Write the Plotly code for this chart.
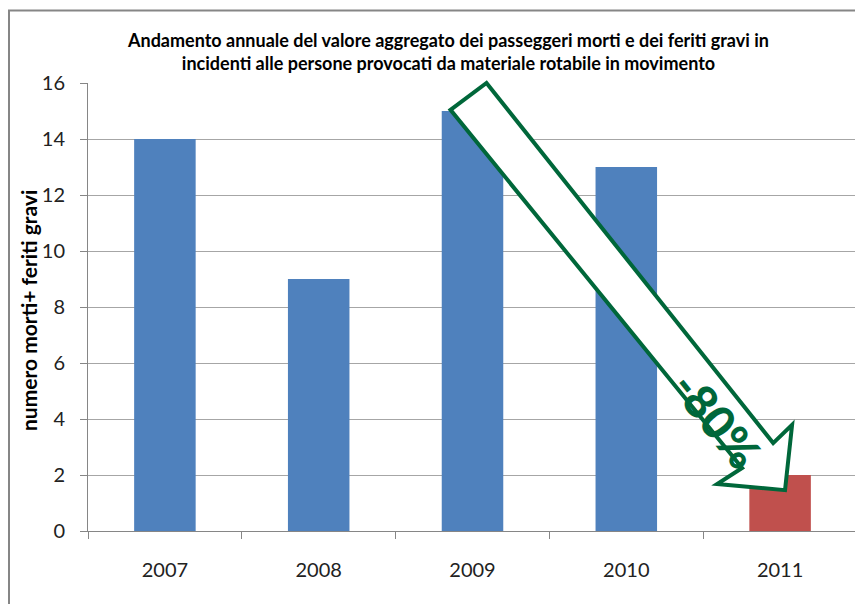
import plotly.graph_objects as go

# ---- data ----
years = ["2007", "2008", "2009", "2010", "2011"]
values = [14, 9, 15, 13, 2]
bar_colors = ["#4F81BD", "#4F81BD", "#4F81BD", "#4F81BD", "#C0504D"]
y_ticks = [0, 2, 4, 6, 8, 10, 12, 14, 16]

title_lines = [
    "Andamento annuale del valore aggregato dei passeggeri morti e dei feriti gravi in",
    "incidenti alle persone provocati da materiale rotabile in movimento",
]
y_title = "numero morti+ feriti gravi"
arrow_label = "-80%"

# arrow outline vertices in data units (category index, value)
arrow_x = [1.857, 2.091, 3.955, 4.078, 4.032, 3.591, 3.753]
arrow_y = [15.04, 16.0, 3.14, 3.79, 1.46, 1.68, 2.25]
label_pos = (3.59, 4.0)

X_RANGE = [-0.5, 4.5]
Y_RANGE = [0, 16]

FONT = "Lato"
GREEN = "#00673A"

fig = go.Figure()
fig.add_trace(go.Bar(
    x=years, y=values, marker=dict(color=bar_colors, line=dict(width=0)),
    width=0.4, showlegend=False,
))

# convert arrow vertices to domain fractions (avoid clipping at the plot edge)
def dx(v):
    return (v - X_RANGE[0]) / (X_RANGE[1] - X_RANGE[0])

def dy(v):
    return (v - Y_RANGE[0]) / (Y_RANGE[1] - Y_RANGE[0])

path = "M " + " L ".join(f"{dx(a):.5f},{dy(b):.5f}" for a, b in zip(arrow_x, arrow_y)) + " Z"

# figure sits 8px inside the page (body margin)
W, H = 855, 596
L, R, T, B = 80, 6, 75, 73
pw, ph = W - L - R, H - T - B
bottom = H - B

def px(x):
    return (x - L) / pw

def py(y):
    return (bottom - y) / ph

shapes = [
    dict(type="path", path=path, xref="x domain", yref="y domain",
         line=dict(color=GREEN, width=4), fillcolor="white", layer="above"),
    # outer chart frame
    dict(type="rect", xref="paper", yref="paper",
         x0=px(1), x1=px(W + 30), y0=py(H + 30), y1=py(2.5),
         line=dict(color="#868686", width=2), fillcolor="rgba(0,0,0,0)", layer="below"),
]

annotations = [
    dict(text=arrow_label, x=label_pos[0], y=label_pos[1], xref="x", yref="y",
         showarrow=False, textangle=51,
         font=dict(family=FONT, size=46, color=GREEN, weight=900)),
    dict(text=y_title, x=px(20), y=py(303), xref="paper", yref="paper",
         showarrow=False, textangle=-90, xanchor="center", yanchor="middle",
         font=dict(family=FONT, size=21, color="black", weight="bold")),
    dict(text="<br>".join(title_lines), x=px(440), y=py(44),
         xref="paper", yref="paper", showarrow=False, xanchor="center", yanchor="middle",
         font=dict(family=FONT, size=18, color="black", weight="bold")),
]

fig.update_layout(
    width=W, height=H,
    margin=dict(l=L, r=R, t=T, b=B),
    paper_bgcolor="white", plot_bgcolor="white",
    shapes=shapes, annotations=annotations,
    font=dict(family=FONT, color="#222222"),
    bargap=0.6,
)
fig.update_xaxes(
    type="category", range=X_RANGE, showgrid=False,
    showline=True, linecolor="#868686", linewidth=1,
    ticks="outside", tickson="boundaries", ticklen=7, tickcolor="#868686",
    ticklabelstandoff=21,
    tickfont=dict(family=FONT, size=20, color="#222222"),
)
fig.update_yaxes(
    range=Y_RANGE, tickvals=y_ticks, showgrid=True, gridcolor="#A6A6A6", gridwidth=1,
    showline=True, linecolor="#868686", linewidth=1, zeroline=False,
    ticks="outside", ticklen=7, tickcolor="#868686",
    ticklabelstandoff=11,
    tickfont=dict(family=FONT, size=20, color="#222222"),
)

fig.write_html("out.html")
